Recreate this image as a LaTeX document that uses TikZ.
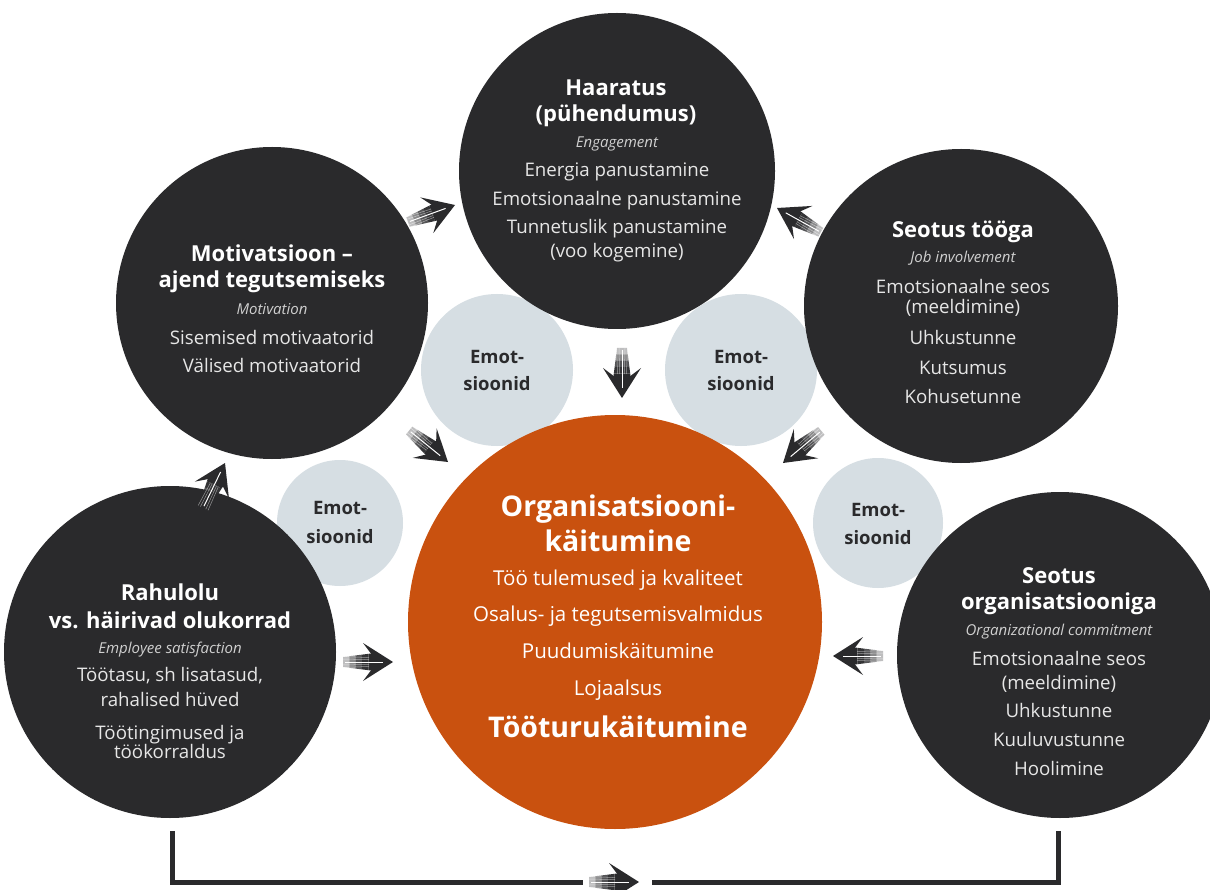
\documentclass[tikz,border=0pt]{standalone}
\usepackage{fontspec}
\setmainfont{Open Sans}
\definecolor{ink}{HTML}{2A2A2C}
\definecolor{orng}{HTML}{C9510F}
\definecolor{fog}{HTML}{D6DEE3}
\definecolor{pale}{HTML}{E6E6E6}
\definecolor{subg}{HTML}{D0D0D0}
\tikzset{
  disc/.style={circle, inner sep=0pt, minimum size=#1},
  darkdisc/.style={disc=#1, fill=ink},
  fogdisc/.style={disc=#1, fill=fog},
  ttl/.style={anchor=base, inner sep=0pt, text=white, font=\bfseries\fontsize{22}{24}\selectfont},
  sub/.style={anchor=base, inner sep=0pt, text=subg, font=\itshape\fontsize{15}{17}\selectfont},
  body/.style={anchor=base, inner sep=0pt, text=pale, font=\fontsize{18.7}{21}\selectfont},
  otitle/.style={anchor=base, inner sep=0pt, text=white, font=\bfseries\fontsize{28.5}{30}\selectfont},
  obody/.style={anchor=base, inner sep=0pt, text=white, font=\fontsize{20.5}{23}\selectfont},
  emo/.style={anchor=base, inner sep=0pt, text=ink, font=\bfseries\fontsize{18.5}{22}\selectfont},
  bracket/.style={draw=ink, line width=5pt},
  pics/farrow/.style={code={
    % shaft: a wedge fading out towards its tail
    \foreach \k/\op in {0/0.3,1/0.55,2/0.8,3/0.95,4/1}{
      \pgfmathsetmacro{\xa}{-50+\k*6.4}
      \pgfmathsetmacro{\xb}{-50+(\k+1)*6.4}
      \pgfmathsetmacro{\ha}{5+\k*0.8}
      \pgfmathsetmacro{\hb}{5+(\k+1)*0.8}
      \fill[ink, opacity=\op] (\xa,-\ha) -- (\xb,-\hb) -- (\xb,\hb) -- (\xa,\ha) -- cycle;
    }
    \fill[ink] (0,0) -- (-30,19) -- (-21,7) -- (-21,-7) -- (-30,-19) -- cycle;
    \foreach \yy in {-5.5,-3,3,5.5}{
      \draw[white, line width=0.5pt, opacity=0.5] (-50,\yy) -- (-24,\yy*0.8);
    }
    \draw[white, line width=1pt] (-48,0) -- (-10,0);
  }}
}
\begin{document}
\begin{tikzpicture}[x=1pt, y=-1pt]
\useasboundingbox[fill=white] (0,0) rectangle (1210,890);

% light grey "Emotsioonid" circles (behind)
\node[fogdisc=152] (e1) at (497,370) {};
\node[fogdisc=152] (e2) at (741,370) {};
\node[fogdisc=126] (e3) at (340,523) {};
\node[fogdisc=130] (e4) at (878,523) {};

% dark circles
\node[darkdisc=316] (top) at (617,171) {};
\node[darkdisc=312] (mot) at (272,303) {};
\node[darkdisc=314] (job) at (961,306) {};
\node[darkdisc=332] (rah) at (170,652) {};
\node[darkdisc=326] (org) at (1060,655) {};

% central orange circle
\node[disc=414, fill=orng] (core) at (615,622) {};

% grey circle texts
\node[emo] (e1a) at (497,363) {Emot-};
\node[emo] (e1b) at (497,391) {sioonid};
\node[emo] (e2a) at (741,363) {Emot-};
\node[emo] (e2b) at (741,391) {sioonid};
\node[emo] (e3a) at (340,514) {Emot-};
\node[emo] (e3b) at (340,543) {sioonid};
\node[emo] (e4a) at (878,516) {Emot-};
\node[emo] (e4b) at (878,544) {sioonid};

% top circle text
\node[ttl] (t1) at (616,95.7) {Haaratus};
\node[ttl] (t2) at (616,121.7) {(pühendumus)};
\node[sub] (t3) at (617,147.5) {Engagement};
\node[body] (t4) at (617,176.5) {Energia panustamine};
\node[body] (t5) at (617,206) {Emotsionaalne panustamine};
\node[body] (t6) at (617,234) {Tunnetuslik panustamine};
\node[body] (t7) at (617,257.5) {(voo kogemine)};

% motivation circle text
\node[ttl] (m1) at (272,261.7) {Motivatsioon –};
\node[ttl] (m2) at (272,287.7) {ajend tegutsemiseks};
\node[sub] (m3) at (272,315) {Motivation};
\node[body] (m4) at (272,345) {Sisemised motivaatorid};
\node[body] (m5) at (272,373) {Välised motivaatorid};

% job involvement circle text
\node[ttl] (j1) at (963,237.3) {Seotus tööga};
\node[sub] (j2) at (963,262.7) {Job involvement};
\node[body] (j3) at (963,293.3) {Emotsionaalne seos};
\node[body] (j4) at (963,314) {(meeldimine)};
\node[body] (j5) at (963,345) {Uhkustunne};
\node[body] (j6) at (963,374) {Kutsumus};
\node[body] (j7) at (963,403) {Kohusetunne};

% satisfaction circle text
\node[ttl] (r1) at (170,600) {Rahulolu};
\node[ttl] (r2) at (170,628) {vs. häirivad olukorrad};
\node[sub] (r3) at (170,653) {Employee satisfaction};
\node[body] (r4) at (170,681) {Töötasu, sh lisatasud,};
\node[body] (r5) at (170,706) {rahalised hüved};
\node[body] (r6) at (170,739) {Töötingimused ja};
\node[body] (r7) at (170,758) {töökorraldus};

% organizational commitment circle text
\node[ttl] (o1) at (1059,583) {Seotus};
\node[ttl] (o2) at (1059,609) {organisatsiooniga};
\node[sub] (o3) at (1059,635) {Organizational commitment};
\node[body] (o4) at (1059,665) {Emotsionaalne seos};
\node[body] (o5) at (1059,689) {(meeldimine)};
\node[body] (o6) at (1059,717) {Uhkustunne};
\node[body] (o7) at (1059,746) {Kuuluvustunne};
\node[body] (o8) at (1059,775) {Hoolimine};

% central circle text
\node[otitle] (c1) at (618,516) {Organisatsiooni-};
\node[otitle] (c2) at (618,551) {käitumine};
\node[obody] (c3) at (618,585) {Töö tulemused ja kvaliteet};
\node[obody] (c4) at (618,621) {Osalus- ja tegutsemisvalmidus};
\node[obody] (c5) at (618,658) {Puudumiskäitumine};
\node[obody] (c6) at (618,695) {Lojaalsus};
\node[otitle] (c7) at (618,737) {Tööturukäitumine};

% arrow tips
\coordinate (a1) at (455,205);
\coordinate (a2) at (777,208);
\coordinate (a3) at (622,398);
\coordinate (a4) at (448,462);
\coordinate (a5) at (783,463);
\coordinate (a6) at (225,463);
\coordinate (a7) at (393,662);
\coordinate (a8) at (833,656);
\coordinate (a9) at (639,882);

\pic[rotate=20] at (a1) {farrow};
\pic[rotate=151] at (a2) {farrow};
\pic[rotate=-90] at (a3) {farrow};
\pic[rotate=-39] at (a4) {farrow};
\pic[rotate=-140] at (a5) {farrow};
\pic[rotate=64] at (a6) {farrow};
\pic[rotate=0] at (a7) {farrow};
\pic[rotate=180] at (a8) {farrow};
\pic[rotate=0] at (a9) {farrow};

% bottom bracket
\coordinate (bl1) at (172,831);
\coordinate (bl2) at (583,882);
\coordinate (br1) at (652,882);
\coordinate (br2) at (1058,831);
\draw[bracket] (bl1) |- (bl2);
\draw[bracket] (br1) -| (br2);
\end{tikzpicture}
\end{document}
